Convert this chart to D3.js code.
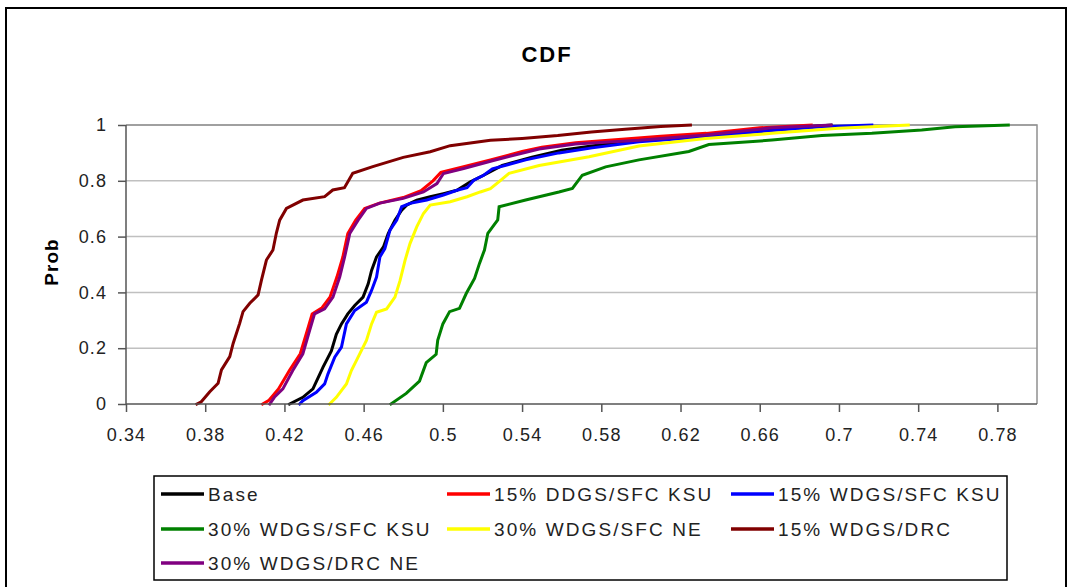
<!DOCTYPE html>
<html><head><meta charset="utf-8">
<script src="https://cdn.jsdelivr.net/npm/d3@7/dist/d3.min.js"></script>
<style>
html,body{margin:0;padding:0;background:#fff;}
svg{display:block;font-family:"Liberation Sans",Arial,sans-serif;}
</style></head>
<body><svg id="c" width="1073" height="587"></svg>
<script>
const title = "CDF";
const yTitle = "Prob";
const xTicks = [0.34,0.38,0.42,0.46,0.5,0.54,0.58,0.62,0.66,0.7,0.74,0.78];
const yTicks = [0,0.2,0.4,0.6,0.8,1];
const seriesNames = ["Base","15% DDGS/SFC KSU","15% WDGS/SFC KSU","30% WDGS/SFC KSU","30% WDGS/SFC NE","15% WDGS/DRC","30% WDGS/DRC NE"];
const seriesColors = ["#000000","#ff0000","#0000ff","#008000","#ffff00","#800000","#800080"];

const base = [[0.4226,0],[0.4293,0.024],[0.4344,0.054],[0.4395,0.132],[0.4437,0.19],[0.4462,0.25],[0.4488,0.287],[0.452,0.323],[0.4555,0.353],[0.4597,0.383],[0.4623,0.431],[0.464,0.479],[0.4665,0.527],[0.470,0.563],[0.4724,0.611],[0.4758,0.659],[0.4792,0.695],[0.4817,0.713],[0.4868,0.731],[0.4936,0.743],[0.5003,0.754],[0.5071,0.766],[0.5139,0.796],[0.5206,0.82],[0.53,0.855],[0.545,0.885],[0.56,0.91],[0.575,0.925],[0.6,0.945],[0.633,0.965],[0.666,0.985],[0.696,1.0]];
const ddgsKsu15 = [[0.409,0],[0.412,0.012],[0.417,0.054],[0.4225,0.12],[0.428,0.18],[0.4315,0.263],[0.434,0.323],[0.439,0.345],[0.443,0.383],[0.4465,0.455],[0.4495,0.527],[0.452,0.611],[0.456,0.659],[0.4605,0.701],[0.468,0.72],[0.48,0.74],[0.489,0.765],[0.495,0.8],[0.499,0.83],[0.51,0.85],[0.524,0.875],[0.54,0.905],[0.55,0.92],[0.567,0.936],[0.592,0.95],[0.61,0.96],[0.633,0.97],[0.66,0.99],[0.686,1.0]];
const wdgsKsu15 = [[0.4277,0],[0.4293,0.012],[0.4361,0.042],[0.4403,0.072],[0.442,0.108],[0.4454,0.168],[0.4488,0.204],[0.4513,0.287],[0.4555,0.335],[0.4614,0.365],[0.464,0.407],[0.4665,0.455],[0.4682,0.527],[0.4707,0.557],[0.4733,0.623],[0.4767,0.659],[0.4792,0.707],[0.4834,0.719],[0.4919,0.731],[0.5003,0.749],[0.5071,0.766],[0.5122,0.775],[0.5156,0.802],[0.5206,0.82],[0.525,0.843],[0.5418,0.875],[0.5586,0.9],[0.5754,0.918],[0.599,0.94],[0.6326,0.958],[0.6662,0.98],[0.6914,0.994],[0.7166,1.0]];
const wdgsKsu30 = [[0.4738,0],[0.4815,0.038],[0.4882,0.082],[0.4916,0.148],[0.4966,0.178],[0.4974,0.228],[0.5,0.287],[0.5034,0.331],[0.5084,0.343],[0.5118,0.396],[0.516,0.45],[0.5185,0.504],[0.521,0.552],[0.5227,0.612],[0.5252,0.636],[0.5277,0.66],[0.5284,0.707],[0.5418,0.731],[0.5586,0.76],[0.5654,0.773],[0.5704,0.82],[0.5822,0.85],[0.599,0.875],[0.6242,0.905],[0.6343,0.93],[0.6662,0.946],[0.6914,0.962],[0.7166,0.97],[0.7418,0.982],[0.7586,0.994],[0.7855,1.0]];
const wdgsNe30 = [[0.4428,0],[0.4462,0.024],[0.4513,0.072],[0.4538,0.12],[0.4572,0.168],[0.4614,0.228],[0.464,0.287],[0.4665,0.329],[0.4716,0.341],[0.4758,0.383],[0.4784,0.443],[0.4809,0.515],[0.4834,0.575],[0.4868,0.635],[0.4902,0.683],[0.4936,0.713],[0.5037,0.725],[0.5122,0.743],[0.5189,0.76],[0.524,0.772],[0.5284,0.797],[0.5334,0.827],[0.5486,0.855],[0.5738,0.886],[0.599,0.925],[0.6326,0.952],[0.6662,0.97],[0.6998,0.988],[0.735,1.0]];
const wdgsDrc15 = [[0.3758,0],[0.3780,0.008],[0.3823,0.044],[0.3865,0.074],[0.3882,0.122],[0.3924,0.170],[0.3941,0.217],[0.3974,0.289],[0.3991,0.331],[0.4025,0.361],[0.4067,0.391],[0.4084,0.444],[0.4109,0.516],[0.4142,0.552],[0.4159,0.612],[0.4176,0.659],[0.4210,0.701],[0.4293,0.731],[0.4403,0.743],[0.4444,0.767],[0.4503,0.775],[0.4545,0.827],[0.4646,0.851],[0.48,0.884],[0.4936,0.904],[0.5037,0.926],[0.524,0.945],[0.54,0.952],[0.558,0.962],[0.575,0.975],[0.592,0.985],[0.61,0.995],[0.625,1.0]];
const wdgsDrcNe30 = [[0.4126,0],[0.4149,0.024],[0.4192,0.054],[0.4242,0.12],[0.4293,0.18],[0.4327,0.263],[0.4352,0.323],[0.4403,0.341],[0.4445,0.383],[0.4479,0.455],[0.4504,0.527],[0.453,0.611],[0.4572,0.659],[0.4614,0.701],[0.4682,0.72],[0.48,0.737],[0.4902,0.76],[0.497,0.79],[0.5003,0.826],[0.5105,0.844],[0.525,0.872],[0.5486,0.914],[0.567,0.932],[0.599,0.945],[0.6326,0.964],[0.6662,0.99],[0.696,1.0]];

const seriesData = [base, ddgsKsu15, wdgsKsu15, wdgsKsu30, wdgsNe30, wdgsDrc15, wdgsDrcNe30];

const svg = d3.select("#c");
const L = 126, R = 1037, T = 125, B = 404;
const x = d3.scaleLinear().domain([0.34, 0.8]).range([L, R]);
const y = d3.scaleLinear().domain([0, 1]).range([B, T]);

// outer frame
svg.append("rect").attr("x",6).attr("y",8).attr("width",1060).attr("height",590)
  .attr("fill","#fff").attr("stroke","#000").attr("stroke-width",2);

// title
svg.append("text").attr("x",547).attr("y",62).attr("text-anchor","middle")
  .attr("font-size",22).attr("font-weight","bold").attr("letter-spacing",2).attr("fill","#000").text(title);

// gridlines
svg.append("g").selectAll("line").data(yTicks.filter(d=>d>0)).join("line")
  .attr("x1",L).attr("x2",R).attr("y1",d=>y(d)).attr("y2",d=>y(d))
  .attr("stroke","#c0c0c0").attr("stroke-width",1.5);
// plot border top/right
svg.append("path").attr("d",`M${L},${T}H${R}V${B}`).attr("fill","none").attr("stroke","#909090").attr("stroke-width",1.5);

// series
const line = d3.line().x(d=>x(d[0])).y(d=>y(d[1]));
svg.append("g").selectAll("path").data(seriesData).join("path")
  .attr("d",line).attr("fill","none").attr("stroke",(d,i)=>seriesColors[i])
  .attr("stroke-width",3).attr("stroke-linejoin","miter").attr("stroke-linecap","square");

// axes
const xAxis = d3.axisBottom(x).tickValues(xTicks).tickSize(8).tickPadding(16).tickFormat(d=>d3.format("")(+d.toFixed(2)));
const gx = svg.append("g").attr("transform",`translate(0,${B})`).call(xAxis);
gx.select(".domain").attr("stroke","#555").attr("stroke-width",1.5).attr("d",`M${L},0H${R}`);
gx.selectAll(".tick line").attr("stroke","#555").attr("stroke-width",1.5);
gx.selectAll("text").attr("font-size",18).attr("letter-spacing",1.1).attr("fill","#222").attr("font-family","Liberation Sans, Arial, sans-serif");

const yAxis = d3.axisLeft(y).tickValues(yTicks).tickSize(8).tickPadding(11).tickFormat(d=>d3.format("")(+d.toFixed(1)));
const gy = svg.append("g").attr("transform",`translate(${L},0)`).call(yAxis);
gy.select(".domain").attr("stroke","#555").attr("stroke-width",1.5).attr("d",`M0,${B}V${T}`);
gy.selectAll(".tick line").attr("stroke","#555").attr("stroke-width",1.5);
gy.selectAll("text").attr("font-size",18).attr("letter-spacing",1.1).attr("fill","#222").attr("font-family","Liberation Sans, Arial, sans-serif");

// y title
svg.append("text").attr("transform","translate(58,262) rotate(-90)").attr("text-anchor","middle")
  .attr("font-size",19).attr("font-weight","bold").attr("letter-spacing",1).attr("fill","#000").text(yTitle);

// legend
const lg = svg.append("g");
lg.append("rect").attr("x",154).attr("y",476).attr("width",853).attr("height",104)
  .attr("fill","#fff").attr("stroke","#000").attr("stroke-width",1.5);
const colX = [161, 447, 731], rowY = [494, 529, 563];
const items = lg.selectAll("g.it").data(seriesNames).join("g").attr("class","it")
  .attr("transform",(d,i)=>`translate(${colX[i%3]},${rowY[Math.floor(i/3)]})`);
items.append("line").attr("x1",0).attr("x2",43).attr("y1",0).attr("y2",0)
  .attr("stroke",(d,i)=>seriesColors[i]).attr("stroke-width",3.5);
items.append("text").attr("x",47).attr("y",7).attr("font-size",19).attr("letter-spacing",2.1)
  .attr("fill","#222").text(d=>d);
</script></body></html>
